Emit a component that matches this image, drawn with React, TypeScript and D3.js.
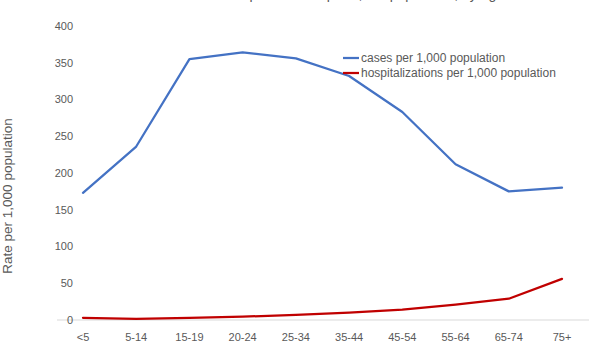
import React from "react";
import * as d3 from "d3";

const categories = ["<5", "5-14", "15-19", "20-24", "25-34", "35-44", "45-54", "55-64", "65-74", "75+"];
const cases = [173, 236, 355, 364, 356, 332, 283, 212, 175, 180];
const hospitalizations = [3, 1.5, 3, 4.5, 7, 10, 14, 21, 29, 56];
const yTicks = [0, 50, 100, 150, 200, 250, 300, 350, 400];
const seriesNames = ["cases per 1,000 population", "hospitalizations per 1,000 population"];
const title = "COVID-19 cases and hospitalizations per 1,000 population, by age";

const W = 595;
const H = 350;
const FONT = "'Liberation Sans', Arial, sans-serif";
const TXT = "#595959";

export default function App() {
  const x = d3.scalePoint<string>().domain(categories).range([83, 562]);
  const y = d3.scaleLinear().domain([0, 400]).range([320, 26]);
  const line = d3
    .line<number>()
    .x((_, i) => x(categories[i]) as number)
    .y((d) => y(d));

  const series = [
    { name: seriesNames[0], values: cases, color: "#4472C4" },
    { name: seriesNames[1], values: hospitalizations, color: "#C00000" },
  ];

  return (
    <svg
      width={W}
      height={H}
      style={{ position: "absolute", left: 0, top: 0, background: "#fff" }}
      fontFamily={FONT}
    >
      <rect width={W} height={H} fill="#fff" />
      <text x={W / 2} y={-1} textAnchor="middle" fontSize={14} fill={TXT}>
        {title}
      </text>
      <line x1={57} x2={589} y1={y(0)} y2={y(0)} stroke="#d9d9d9" strokeWidth={1} />
      {yTicks.map((t) => (
        <text key={t} x={73} y={y(t)} dy="0.35em" textAnchor="end" fontSize={11} fill={TXT}>
          {t}
        </text>
      ))}
      {categories.map((c) => (
        <text key={c} x={x(c)} y={341} textAnchor="middle" fontSize={11} fill={TXT}>
          {c}
        </text>
      ))}
      <text
        transform={`translate(12,196) rotate(-90)`}
        textAnchor="middle"
        fontSize={13.5}
        fill={TXT}
      >
        Rate per 1,000 population
      </text>
      {series.map((s) => (
        <path
          key={s.name}
          d={line(s.values) as string}
          fill="none"
          stroke={s.color}
          strokeWidth={2.25}
          strokeLinejoin="round"
          strokeLinecap="round"
        />
      ))}
      {series.map((s, i) => (
        <g key={s.name} transform={`translate(343,${58 + i * 15})`}>
          <line x1={0} x2={16} y1={0} y2={0} stroke={s.color} strokeWidth={2.25} />
          <text x={18} y={0} dy="0.35em" fontSize={12} fill={TXT}>
            {s.name}
          </text>
        </g>
      ))}
    </svg>
  );
}
